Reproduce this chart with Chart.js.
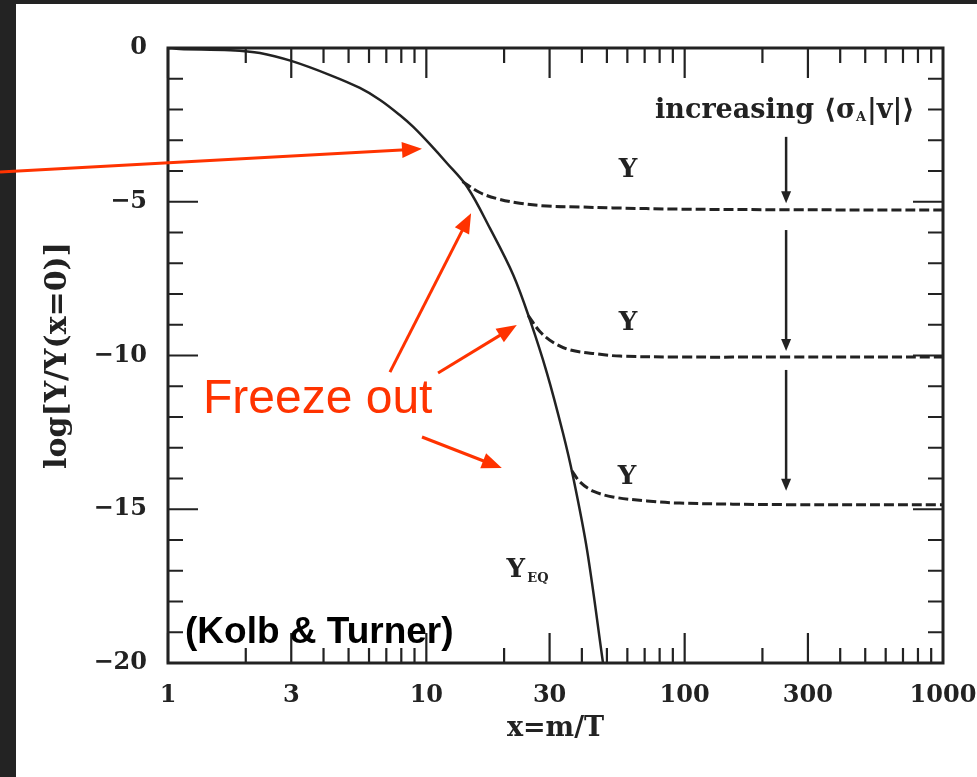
<!DOCTYPE html>
<html>
<head>
<meta charset="utf-8">
<script src="https://cdn.jsdelivr.net/npm/chart.js@4.4.0/dist/chart.umd.min.js"></script>
<style>
  html, body { margin: 0; padding: 0; background: #fff; }
</style>
</head>
<body>
<canvas id="relic" width="977" height="777"></canvas>
<script>
// equilibrium abundance Y_EQ
const eqX = [1, 1.11, 1.74, 2.27, 3.0, 4.24, 5.53, 6.62, 7.89, 8.88, 10.3, 12.0, 14.4, 17.6, 21.7, 25.2, 29.3, 33.8, 37.0, 41.9, 48.3];
const eqY = [0, -0.03, -0.07, -0.16, -0.42, -0.88, -1.30, -1.69, -2.18, -2.56, -3.12, -3.74, -4.52, -5.85, -7.38, -8.85, -10.57, -12.52, -13.95, -16.33, -20];

// frozen-out abundances, weakest to strongest annihilation
const fo1X = [13.8, 16.1, 18.8, 23.0, 29.3, 39.4, 52.7, 95.8, 247, 1000];
const fo1Y = [-4.34, -4.70, -4.90, -5.05, -5.14, -5.17, -5.20, -5.24, -5.26, -5.27];
const fo2X = [24.8, 27.5, 30.9, 36.0, 45.8, 56.2, 95.8, 247, 1000];
const fo2Y = [-8.7, -9.22, -9.57, -9.82, -9.95, -10.02, -10.05, -10.05, -10.05];
const fo3X = [36.6, 39.4, 44.2, 52.7, 71.5, 95.8, 247, 1000];
const fo3Y = [-13.75, -14.12, -14.41, -14.6, -14.73, -14.80, -14.85, -14.85];

const xLabels = [1, 3, 10, 30, 100, 300, 1000];
const yLabels = [0, -5, -10, -15, -20];

const ink = '#222';
const red = '#ff3300';
const serif = '"DejaVu Serif", "Liberation Serif", serif';

function pts(xs, ys) {
    return xs.map((v, i) => ({ x: v, y: ys[i] }));
}

function arrow(ctx, x1, y1, x2, y2, w, head, half, color) {
    const ang = Math.atan2(y2 - y1, x2 - x1);
    ctx.strokeStyle = color;
    ctx.fillStyle = color;
    ctx.lineWidth = w;
    ctx.beginPath();
    ctx.moveTo(x1, y1);
    ctx.lineTo(x2 - Math.cos(ang) * head * 0.8, y2 - Math.sin(ang) * head * 0.8);
    ctx.stroke();
    ctx.beginPath();
    ctx.moveTo(x2, y2);
    ctx.lineTo(x2 - Math.cos(ang) * head + Math.sin(ang) * half, y2 - Math.sin(ang) * head - Math.cos(ang) * half);
    ctx.lineTo(x2 - Math.cos(ang) * head - Math.sin(ang) * half, y2 - Math.sin(ang) * head + Math.cos(ang) * half);
    ctx.closePath();
    ctx.fill();
}

const frame = {
    id: 'frame',
    beforeDraw(chart) {
        const ctx = chart.ctx;
        ctx.save();
        ctx.fillStyle = '#232323';
        ctx.fillRect(0, 0, chart.width, chart.height);
        ctx.fillStyle = '#fff';
        ctx.fillRect(16, 4, chart.width - 16, chart.height - 4);
        ctx.restore();
    },
    afterDatasetsDraw(chart) {
        const { ctx, chartArea: a, scales: { x, y } } = chart;
        ctx.save();
        ctx.strokeStyle = ink;
        ctx.lineWidth = 2.2;
        ctx.beginPath();
        // inward ticks on all four sides
        for (let d = 1; d < 1000; d *= 10) {
            for (let k = 1; k <= 9; k++) {
                const px = x.getPixelForValue(d * k);
                const len = (k === 1 || k === 3) ? 30 : 15;
                ctx.moveTo(px, a.bottom); ctx.lineTo(px, a.bottom - len);
                ctx.moveTo(px, a.top); ctx.lineTo(px, a.top + len);
            }
        }
        for (let v = -20; v <= 0; v++) {
            const py = y.getPixelForValue(v);
            const len = v % 5 === 0 ? 30 : 15;
            ctx.moveTo(a.left, py); ctx.lineTo(a.left + len, py);
            ctx.moveTo(a.right, py); ctx.lineTo(a.right - len, py);
        }
        ctx.stroke();
        ctx.lineWidth = 3;
        ctx.strokeRect(a.left, a.top, a.right - a.left, a.bottom - a.top);
        ctx.restore();
    },
    afterDraw(chart) {
        const { ctx, scales: { x, y } } = chart;
        const X = v => x.getPixelForValue(v);
        const Y = v => y.getPixelForValue(v);
        ctx.save();

        // annihilation strength arrows
        const ax = X(247);
        arrow(ctx, ax, Y(-2.89), ax, Y(-5.05), 2.5, 12, 5, ink);
        arrow(ctx, ax, Y(-5.92), ax, Y(-9.85), 2.5, 12, 5, ink);
        arrow(ctx, ax, Y(-10.47), ax, Y(-14.4), 2.5, 12, 5, ink);

        ctx.fillStyle = ink;
        ctx.textBaseline = 'alphabetic';
        ctx.textAlign = 'left';
        ctx.font = 'bold 27px ' + serif;
        let tx = X(76.8);
        const ty = Y(-2.28);
        const s1 = 'increasing \u27E8\u03C3';
        ctx.fillText(s1, tx, ty);
        tx += ctx.measureText(s1).width;
        ctx.font = 'bold 13px ' + serif;
        ctx.fillText('A', tx, ty + 3);
        tx += ctx.measureText('A').width + 1;
        ctx.font = 'bold 27px ' + serif;
        ctx.fillText('|v|\u27E9', tx, ty);

        ctx.textAlign = 'center';
        ctx.textBaseline = 'middle';
        ctx.font = 'bold 26px ' + serif;
        ctx.fillText('Y', X(60.4), Y(-3.97));
        ctx.fillText('Y', X(60.4), Y(-8.94));
        ctx.fillText('Y', X(59.8), Y(-13.95));
        ctx.fillText('Y', X(22.2), Y(-16.98));
        ctx.font = 'bold 13px ' + serif;
        ctx.textAlign = 'left';
        ctx.fillText('EQ', X(24.6), Y(-17.25));

        ctx.textBaseline = 'alphabetic';
        ctx.font = 'bold 37px "Liberation Sans", Arial, sans-serif';
        ctx.fillStyle = '#000';
        ctx.fillText('(Kolb & Turner)', X(1.164), Y(-19.35));

        // freeze-out callouts
        ctx.fillStyle = red;
        ctx.font = '48px "Liberation Sans", Arial, sans-serif';
        ctx.fillText('Freeze out', X(1.366), Y(-11.87));
        arrow(ctx, X(0.2237), Y(-4.03), X(9.62), Y(-3.28), 3, 20, 8, red);
        arrow(ctx, X(7.23), Y(-10.54), X(14.9), Y(-5.37), 3, 20, 8, red);
        arrow(ctx, X(11.1), Y(-10.57), X(22.4), Y(-9.01), 3, 20, 8, red);
        arrow(ctx, X(9.62), Y(-12.65), X(19.6), Y(-13.66), 3, 20, 8, red);
        ctx.restore();
    }
};

const dashed = { borderColor: ink, borderWidth: 3, borderDash: [10, 4], pointRadius: 0, tension: 0.35, fill: false };

new Chart(document.getElementById('relic'), {
    type: 'line',
    data: {
        datasets: [
            { label: 'Y_EQ', data: pts(eqX, eqY), borderColor: ink, borderWidth: 2.5, pointRadius: 0, tension: 0.35, fill: false },
            Object.assign({ label: 'Y1', data: pts(fo1X, fo1Y) }, dashed),
            Object.assign({ label: 'Y2', data: pts(fo2X, fo2Y) }, dashed),
            Object.assign({ label: 'Y3', data: pts(fo3X, fo3Y) }, dashed)
        ]
    },
    options: {
        responsive: false,
        animation: false,
        devicePixelRatio: 1,
        layout: { padding: { top: 48, right: 34, left: 0, bottom: 0 } },
        plugins: { legend: { display: false }, tooltip: { enabled: false } },
        scales: {
            x: {
                type: 'logarithmic',
                min: 1,
                max: 1000,
                afterBuildTicks: s => { s.ticks = xLabels.map(v => ({ value: v })); },
                afterFit: s => { s.height = 114; s.paddingLeft = 0; s.paddingRight = 0; },
                grid: { display: false },
                border: { display: false },
                ticks: {
                    autoSkip: false, maxRotation: 0, padding: 10,
                    color: ink, font: { family: serif, size: 24, weight: 'bold' },
                    callback: v => String(v)
                },
                title: {
                    display: true, text: 'x=m/T', color: ink,
                    font: { family: serif, size: 27, weight: 'bold' },
                    padding: { top: 0, bottom: 32 }
                }
            },
            y: {
                min: -20,
                max: 0,
                afterBuildTicks: s => { s.ticks = yLabels.map(v => ({ value: v })); },
                afterFit: s => { s.width = 168; s.paddingTop = 0; s.paddingBottom = 0; },
                grid: { display: false },
                border: { display: false },
                ticks: {
                    padding: 13, color: ink,
                    font: { family: serif, size: 24, weight: 'bold' },
                    callback: v => v === 0 ? '0' : '\u2212' + (-v)
                },
                title: {
                    display: true, text: 'log[Y/Y(x=0)]', color: ink,
                    font: { family: serif, size: 30, weight: 'bold' },
                    padding: { top: 40, bottom: 0 }
                }
            }
        }
    },
    plugins: [frame]
});
</script>
</body>
</html>
